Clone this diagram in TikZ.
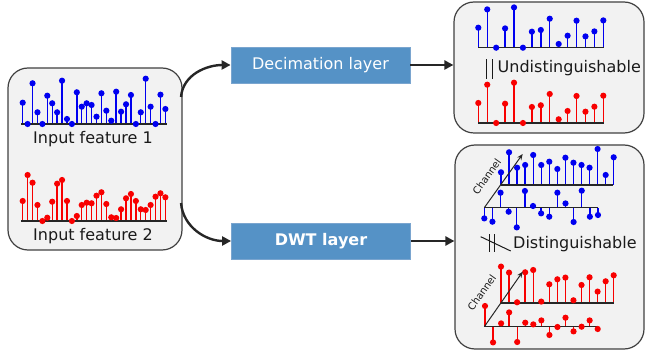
\documentclass[tikz,border=0pt]{standalone}
\usepackage{fontspec}
\setmainfont{DejaVu Sans}
\usetikzlibrary{arrows.meta}
\definecolor{boxfill}{HTML}{F2F2F2}
\definecolor{boxline}{HTML}{404040}
\definecolor{layerfill}{HTML}{5592C6}
\definecolor{layerline}{HTML}{7AA5CF}
\definecolor{arr}{HTML}{262626}
\definecolor{sblue}{HTML}{0000F0}
\definecolor{sred}{HTML}{F80000}
\definecolor{txt}{HTML}{1A1A1A}
% color, x0, dx, baseline, heights, axis start, axis end
\newcommand\stemplot[7]{%
  \foreach \h [count=\i from 0] in {#5} {
    \draw[stemline,#1] ({#2+\i*#3},{#4}) -- ({#2+\i*#3},{#4-(\h)});
  }
  \draw[axisline] ({#6},{#4}) -- ({#7},{#4});
  \foreach \h [count=\i from 0] in {#5} {
    \fill[#1] ({#2+\i*#3},{#4-(\h)}) circle (3.1pt);
  }
}
\begin{document}
\begin{tikzpicture}[x=1pt,y=-1pt,
  panel/.style={draw=boxline, line width=1.2pt, fill=boxfill, rounded corners=20pt, inner sep=0pt},
  layer/.style={fill=layerfill, draw=layerline, line width=0.8pt, text=white,
     font=\fontsize{16}{18}\selectfont, minimum width=179pt, minimum height=36pt, inner sep=0pt},
  conn/.style={draw=arr, line width=2.4pt, -{Triangle[length=9pt,width=9pt]}},
  stemline/.style={line width=1.4pt},
  axisline/.style={draw=black!85, line width=1.6pt},
  lbl/.style={font=\fontsize{16}{18}\selectfont, text=txt, inner sep=0pt},
  chan/.style={draw=arr, line width=1pt, -{Stealth[length=6pt,width=5pt]}},
  chlbl/.style={font=\fontsize{10}{12}\selectfont, text=txt, inner sep=0pt, rotate=54.5},
  bar/.style={draw=txt, line width=1pt}
]
\useasboundingbox (0,0) rectangle (646,358);

% panels
\node[panel, minimum width=174pt, minimum height=182pt] (inp) at (95,159) {};
\node[panel, minimum width=190pt, minimum height=131pt] (outA) at (549,67.5) {};
\node[panel, minimum width=189pt, minimum height=204pt] (outB) at (549.5,247) {};

% layers
\node[layer] (dec) at (320.5,65) {Decimation layer};
\node[layer, font=\fontsize{16}{18}\selectfont\bfseries] (dwt) at (321,241) {DWT layer};

% connectors
\coordinate (s1) at (181,97);
\coordinate (s2) at (181,203);
\draw[conn] (s1) to[out=85,in=180] (dec.west);
\draw[conn] (s2) to[out=-85,in=180] (dwt.west);
\draw[conn] (dec.east) -- (dec.east -| outA.west);
\draw[conn] (dwt.east) -- (dwt.east -| outB.west);

% input features
\stemplot{sblue}{22.7}{4.92}{124}{21.3,0,40.7,11.7,0,28.3,20.7,11.7,43.3,5,0,31.7,17.3,20.7,19,7.3,30.7,13.3,3.3,32.3,12.3,19.7,29,0,11.7,45.3,17.3,0,29.3,15}{21}{167}
\node[lbl] (t1) at (93,139) {Input feature 1};
\stemplot{sred}{22.7}{4.92}{221}{20,46,38.3,16,0,3.3,19.3,37.3,41,20,0,5,16,18.3,17.7,25.3,28.7,17,3.7,3,11.7,22.7,27,20,11.7,11,16,24.3,27.7,23.7}{21}{167}
\node[lbl] (t2) at (93,236) {Input feature 2};

% decimation output
\stemplot{sblue}{478.3}{8.93}{47.7}{20,38.3,0,19.3,40.3,0,16,17.7,29,3.7,12,27,11.3,16.3,27.3}{478.3}{604}
\stemplot{sred}{478.3}{8.93}{123}{20,38.3,0,19.3,40.3,0,16,17.7,29,3.7,12,27,11.3,16.3,27.3}{478.3}{604}
\draw[bar] (486,59.5) -- (486,79);
\draw[bar] (492.3,59.5) -- (492.3,79);
\node[lbl, anchor=west] (und) at (497.5,68.3) {Undistinguishable};

% DWT output, blue
\coordinate (c1s) at (484.3,207.7);
\coordinate (c1e) at (522.7,154);
\stemplot{sblue}{501}{8.05}{185}{12.7,32.7,17.3,20,30,20,23.3,16,27.3,22.3,20,17.3,36,10,27.7}{500.5}{613}
\stemplot{sblue}{484.3}{8.12}{207.7}{-10.7,-14,15,-4,-19.7,16.7,1.7,-5.7,-9,15,4.3,-14.3,17,-9,-7.3}{484.3}{598}
\draw[chan] (c1s) -- (c1e);
\node[chlbl] (ch1) at (486.7,176.7) {Channel};

% distinguishable
\draw[bar] (489.3,234.5) -- (489.3,252.3);
\draw[bar] (494,234.5) -- (494,252.3);
\draw[bar] (480.7,236.7) -- (510.7,251);
\node[lbl, anchor=west] (dis) at (513,244) {Distinguishable};

% DWT output, red
\coordinate (c2s) at (484.3,326.7);
\coordinate (c2e) at (522.7,271.7);
\stemplot{sred}{501}{8.05}{303.3}{36.7,30.7,1,31,33.3,1.7,19,24,25.7,3,18.3,26,11.7,22,28}{500.5}{614.3}
\stemplot{sred}{485}{8.05}{326.7}{20.7,-15.7,3.3,14.3,-15.3,4,2.3,6.3,-8.3,-0.3,9,-4.7,0,6.3,-2.3}{484.3}{598}
\draw[chan] (c2s) -- (c2e);
\node[chlbl] (ch2) at (481.7,292.3) {Channel};
\end{tikzpicture}
\end{document}
